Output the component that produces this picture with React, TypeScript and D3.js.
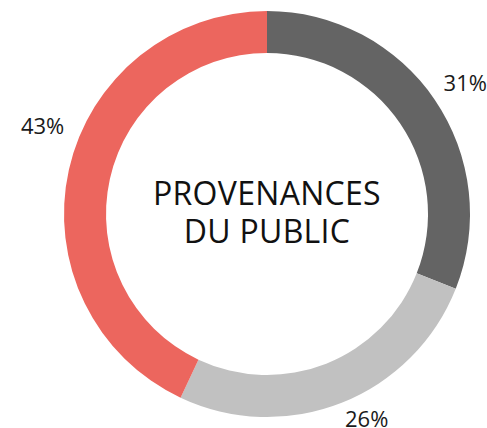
import React from "react";
import * as d3 from "d3";

const categories = ["A", "B", "C"];
const values = [31, 26, 43];
const labels = ["31%", "26%", "43%"];
const colors = ["#646464", "#c1c1c1", "#ec665e"];
// label nudges relative to the label-arc centroid (styling only)
const labelNudge: [number, number][] = [
  [8, -3],
  [15, -10],
  [0, -39],
];
const titleLines = ["PROVENANCES", "DU PUBLIC"];

export default function App() {
  const width = 487;
  const height = 428;
  const cx = 267;
  const cy = 214;
  const outerR = 203;
  const innerR = 161;
  const labelR = 230;

  const pie = d3
    .pie<number>()
    .sort(null)
    .value((d) => d);
  const arcs = pie(values);
  const arc = d3.arc<d3.PieArcDatum<number>>().innerRadius(innerR).outerRadius(outerR);

  return (
    <svg
      width={width}
      height={height}
      style={{ position: "absolute", left: 0, top: 0, background: "#fff" }}
      fontFamily="'Open Sans', sans-serif"
    >
      <g transform={`translate(${cx},${cy})`}>
        {arcs.map((a, i) => (
          <path key={categories[i]} d={arc(a) || ""} fill={colors[i]} />
        ))}
        {arcs.map((a, i) => {
          const mid = (a.startAngle + a.endAngle) / 2;
          const x = Math.sin(mid) * labelR + labelNudge[i][0];
          const y = -Math.cos(mid) * labelR + labelNudge[i][1];
          return (
            <text
              key={"l" + i}
              x={x}
              y={y}
              textAnchor="middle"
              dominantBaseline="central"
              fontSize={22}
              fill="#1a1a1a"
            >
              {labels[i]}
            </text>
          );
        })}
        {titleLines.map((t, i) => (
          <text
            key={t}
            x={0}
            y={-9 + i * 38}
            textAnchor="middle"
            fontSize={32}
            letterSpacing={0.3}
            fill="#111"
          >
            {t}
          </text>
        ))}
      </g>
    </svg>
  );
}
